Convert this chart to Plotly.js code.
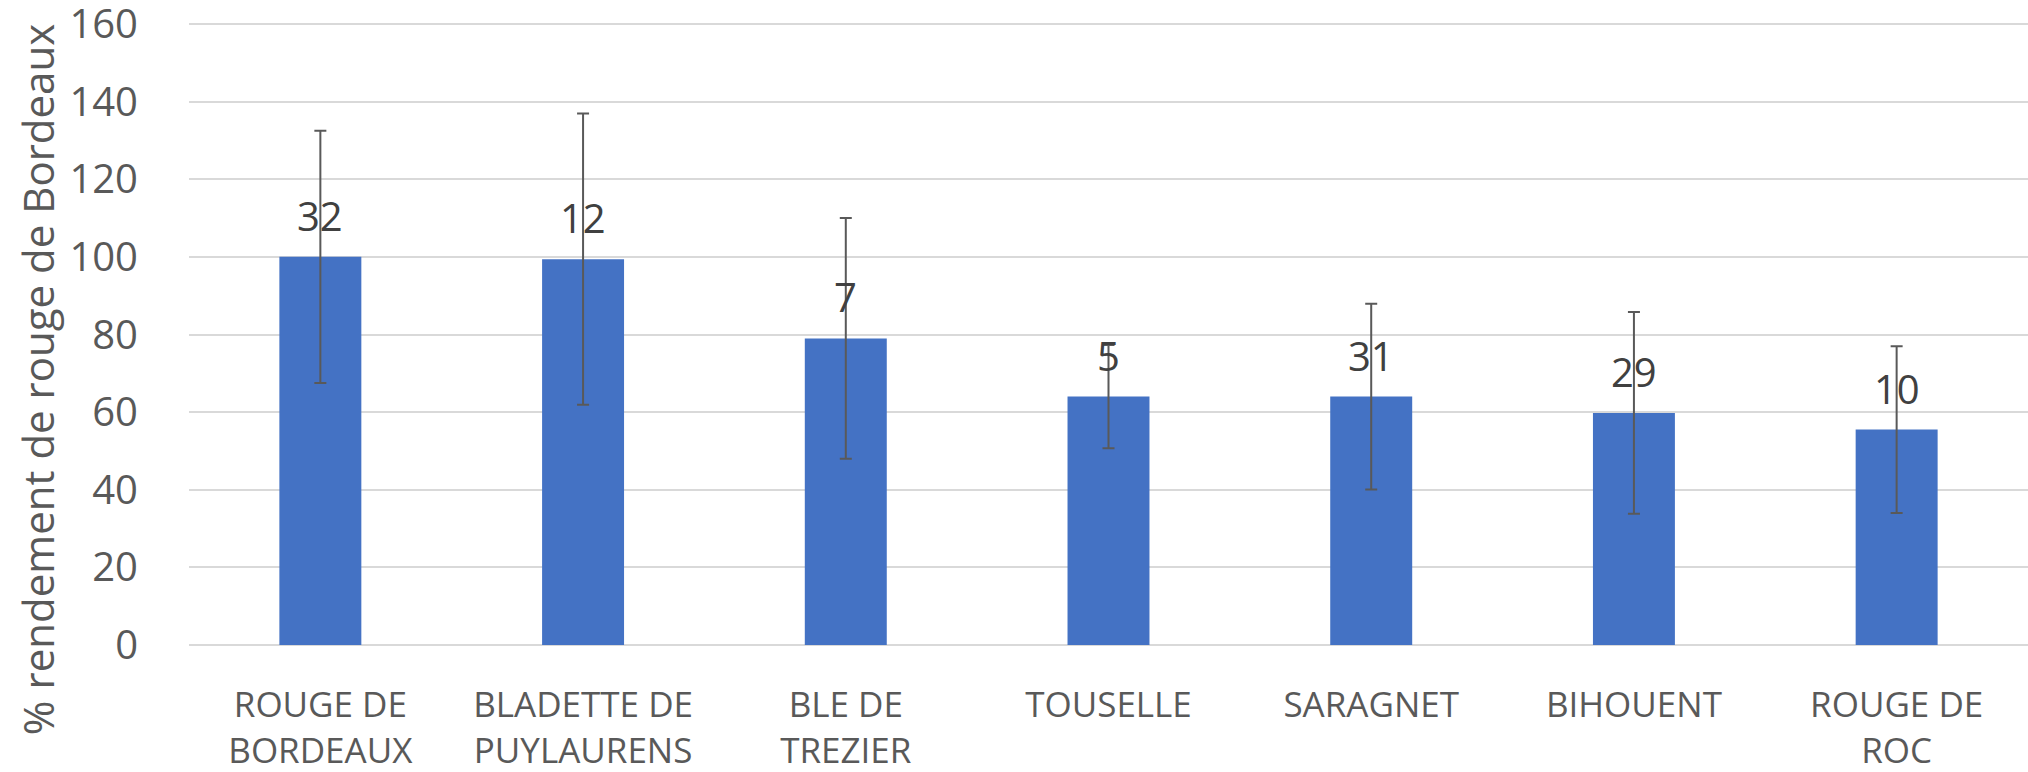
<!DOCTYPE html>
<html>
<head>
<meta charset="utf-8">
<script src="https://cdn.plot.ly/plotly-3.0.1.min.js"></script>
<style>
  html, body { margin: 0; padding: 0; background: #ffffff; }
  #chart { width: 2028px; height: 772px; }
</style>
</head>
<body>
<div id="chart"></div>
<script>
// ---- data ----
const categories = ['ROUGE DE BORDEAUX', 'BLADETTE DE PUYLAURENS', 'BLE DE TREZIER', 'TOUSELLE', 'SARAGNET', 'BIHOUENT', 'ROUGE DE ROC'];
const tickLabels = ['ROUGE DE<br>BORDEAUX', 'BLADETTE DE<br>PUYLAURENS', 'BLE DE<br>TREZIER', 'TOUSELLE', 'SARAGNET', 'BIHOUENT', 'ROUGE DE<br>ROC'];
const values = [100, 99.4, 79, 64, 64, 59.8, 55.5];
const errors = [32.5, 37.5, 31, 13.3, 23.9, 26, 21.5];
const dataLabels = ['32', '12', '7', '5', '31', '29', '10'];
const yMin = 0, yMax = 160, yStep = 20;
const yTitle = '% rendement de rouge de Bordeaux';

const trace = {
  type: 'bar',
  x: categories,
  y: values,
  marker: { color: '#4472C4' },
  error_y: { type: 'data', array: errors, visible: true, color: '#595959', thickness: 2, width: 6 },
  hoverinfo: 'none'
};

const annotations = categories.map((c, i) => ({
  x: c, y: values[i], xref: 'x', yref: 'y',
  text: dataLabels[i], showarrow: false,
  yanchor: 'bottom', xanchor: 'center', yshift: 12,
  font: { family: 'Open Sans', size: 40, color: '#404040' }
}));

annotations.push({
  xref: 'paper', yref: 'paper', x: 0, y: 0.427,
  xanchor: 'center', yanchor: 'middle', xshift: -152,
  text: yTitle, textangle: -90, showarrow: false,
  font: { family: 'Open Sans', size: 42, color: '#595959' }
});

const layout = {
  width: 2028, height: 772,
  margin: { l: 189, r: 0, t: 22, b: 125, pad: 0 },
  paper_bgcolor: '#ffffff', plot_bgcolor: '#ffffff',
  showlegend: false,
  bargap: 0.688,
  font: { family: 'Open Sans', color: '#595959' },
  xaxis: {
    type: 'category',
    tickvals: categories, ticktext: tickLabels,
    showgrid: false, zeroline: false, showline: false,
    ticks: '', ticklabelstandoff: 34,
    tickfont: { family: 'Open Sans', size: 35, color: '#595959' }
  },
  yaxis: {
    range: [yMin - 0.5, yMax + 0.5], tickmode: 'linear', tick0: yMin, dtick: yStep,
    showgrid: true, gridcolor: '#d9d9d9', gridwidth: 2,
    zeroline: false, showline: false,
    ticks: 'outside', ticklen: 42, tickcolor: 'rgba(0,0,0,0)',
    ticklabeloverflow: 'allow',
    tickfont: { family: 'Open Sans', size: 40, color: '#595959' }
  },
  annotations: annotations
};

Plotly.newPlot('chart', [trace], layout, { staticPlot: true, displayModeBar: false });
</script>
</body>
</html>
